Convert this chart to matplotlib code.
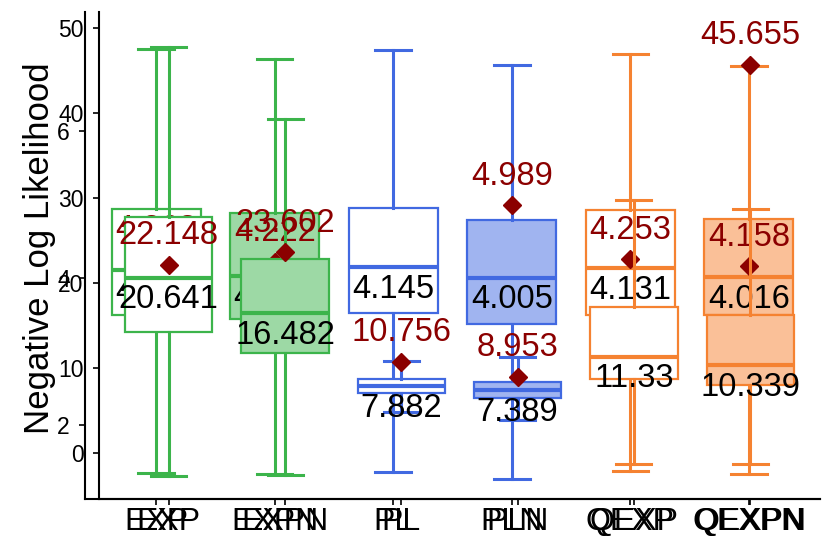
import numpy as np
import matplotlib
matplotlib.use("Agg")
import matplotlib.pyplot as plt

plt.rcParams['font.family'] = ['Liberation Sans', 'DejaVu Sans']

# ----------------------------------------------------
# DATA

models = ['EXP', 'EXPN', 'PL', 'PLN', 'QEXP', 'QEXPN']

# wide-range run (0..50 axis)
a_whislo = [-2.7, -2.6, 4.8, 3.9, -1.3, -1.3]
a_q1 = [14.2, 11.8, 7.06, 6.47, 8.7, 8.0]
a_med = [20.641, 16.482, 7.882, 7.389, 11.33, 10.339]
a_q3 = [27.8, 22.8, 8.7, 8.35, 17.2, 16.2]
a_whishi = [47.8, 39.3, 10.8, 11.3, 29.8, 28.7]
a_mean = [22.148, 23.602, 10.756, 8.953, None, 45.655]

# narrow-range run (2..6 axis)
b_whislo = [1.34, 1.33, 1.36, 1.27, 1.37, 1.33]
b_q1 = [3.50, 3.44, 3.52, 3.37, 3.50, 3.50]
b_med = [4.107, 4.031, 4.145, 4.005, 4.131, 4.016]
b_q3 = [4.94, 4.88, 4.95, 4.79, 4.93, 4.80]
b_whishi = [7.12, 6.98, 7.10, 6.90, 7.05, 6.88]
b_mean = [4.263, 4.222, None, 4.989, 4.253, 4.158]

edge = ['#3CB44B', '#3CB44B', '#4169E1', '#4169E1', '#F58231', '#F58231']
fill = ['white', '#9DD9A5', 'white', '#A0B4F0', 'white', '#FAC098']
mean_col = '#8B0000'

# ----------------------------------------------------
# HELPERS

W, H = 830, 554

def draw(ax, lo, q1, med, q3, hi, mean):
    pos = np.arange(1, 7)
    stats = [dict(whislo=lo[i], q1=q1[i], med=med[i], q3=q3[i], whishi=hi[i], fliers=[])
             for i in range(6)]
    bp = ax.bxp(stats, positions=pos, widths=0.75, capwidths=0.3,
                patch_artist=True, showfliers=False)
    for i in range(6):
        bp['boxes'][i].set(facecolor=fill[i], edgecolor=edge[i], linewidth=1.6)
        bp['medians'][i].set(color=edge[i], linewidth=3)
        for ln in bp['whiskers'][2 * i:2 * i + 2] + bp['caps'][2 * i:2 * i + 2]:
            ln.set(color=edge[i], linewidth=2.2)
    for i in range(6):
        ax.annotate(str(med[i]), (pos[i], med[i]), xytext=(0, -16), textcoords='offset points',
                    ha='center', va='center', fontsize=23.5, color='black', zorder=5)
        if mean[i] is not None:
            ax.plot(pos[i], mean[i], 'D', color=mean_col, markersize=9.5, zorder=4)
            ax.annotate(str(mean[i]), (pos[i], mean[i]), xytext=(0, 21), textcoords='offset points',
                        ha='center', va='center', fontsize=23.5, color=mean_col, zorder=5)

def make_axes(left, ylim, yticks, data):
    ax = fig.add_axes([left / W, 1 - 499 / H, (820 - left) / W, (499 - 12) / H])
    ax.patch.set_visible(False)
    draw(ax, *data)
    ax.set_xlim(0.4, 6.6)
    ax.set_ylim(*ylim)
    ax.set_yticks(yticks)
    ax.set_xticks(range(1, 7))
    ax.set_xticklabels(models)
    for s in ['top', 'right']:
        ax.spines[s].set_visible(False)
    for s in ['left', 'bottom']:
        ax.spines[s].set_linewidth(1.5)
    ax.tick_params(axis='y', labelsize=16.5, length=4, width=1.2, pad=7)
    ax.tick_params(axis='x', labelsize=23, length=4, width=1.2, pad=1.5)
    return ax

# ----------------------------------------------------
# PLOT

fig = plt.figure(figsize=(W / 100, H / 100), dpi=100)

ax_b = make_axes(85, (0.993, 7.619), [2, 4, 6],
                 (b_whislo, b_q1, b_med, b_q3, b_whishi, b_mean))
ax_a = make_axes(99, (-5.41, 51.88), [0, 10, 20, 30, 40, 50],
                 (a_whislo, a_q1, a_med, a_q3, a_whishi, a_mean))

fig.text(39 / W, 1 - 248 / H, 'Negative Log Likelihood', rotation=90,
         ha='center', va='center', fontsize=25)

fig.savefig('out.png', dpi=100)
